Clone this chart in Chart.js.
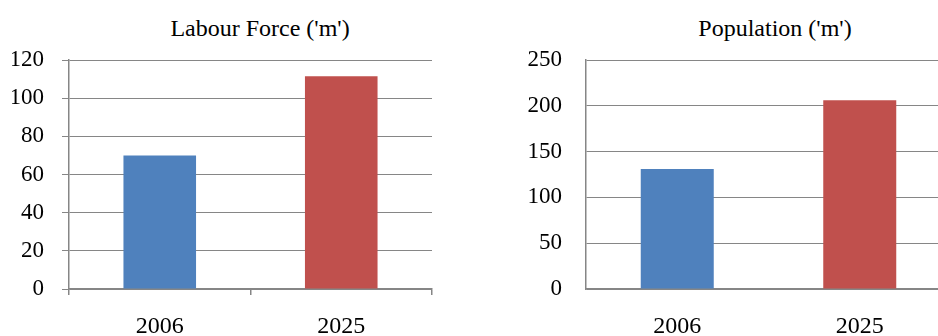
<!DOCTYPE html>
<html lang="en">
<head>
  <meta charset="UTF-8">
  <title>Labour Force and Population</title>
  <script src="https://cdn.jsdelivr.net/npm/chart.js"></script>
  <style>
    body {
      margin: 0;
      width: 938px;
      height: 336px;
      overflow: hidden;
      background: #ffffff;
      position: relative;
      font-family: 'Liberation Serif', 'Times New Roman', serif;
    }
    .chart-box {
      position: absolute;
      top: 0;
      height: 380px;
    }
    .chart-title {
      position: absolute;
      top: 16px;
      width: 300px;
      text-align: center;
      font-size: 24px;
      line-height: 1;
      color: #000;
      white-space: nowrap;
    }
  </style>
</head>
<body>

  <div class="chart-title" style="left: 110px;">Labour Force ('m')</div>
  <div class="chart-title" style="left: 625px;">Population ('m')</div>

  <div class="chart-box" style="left: 0; width: 469px;">
    <canvas id="labourChart"></canvas>
  </div>
  <div class="chart-box" style="left: 469px; width: 482px;">
    <canvas id="popChart"></canvas>
  </div>

  <script>
    const years = ['2006', '2025'];
    const labourForce = [70, 111.5];
    const population = [131, 206];
    const labourTicks = [0, 20, 40, 60, 80, 100, 120];
    const populationTicks = [0, 50, 100, 150, 200, 250];

    const barColors = ['#4f81bd', '#c0504d'];
    const gray = '#868686';
    const serif = "'Liberation Serif', 'Times New Roman', serif";

    Chart.defaults.font.family = serif;
    Chart.defaults.color = '#000';

    function makeChart(id, values, ticks, opts) {
      const ctx = document.getElementById(id).getContext('2d');
      return new Chart(ctx, {
        type: 'bar',
        data: {
          labels: years,
          datasets: [{
            data: values,
            backgroundColor: barColors,
            categoryPercentage: 1,
            barPercentage: 0.4
          }]
        },
        options: {
          responsive: true,
          maintainAspectRatio: false,
          animation: false,
          layout: { padding: opts.padding },
          plugins: {
            legend: { display: false },
            title: { display: false },
            tooltip: { enabled: false }
          },
          scales: {
            x: {
              afterFit: s => { s.height = 50; },
              grid: {
                display: opts.xTicks,
                drawOnChartArea: false,
                drawTicks: opts.xTicks,
                tickLength: 6,
                color: gray,
                lineWidth: 1.5
              },
              border: { display: true, color: gray, width: 1.5 },
              ticks: {
                font: { family: serif, size: 24 },
                padding: opts.xPad,
                maxRotation: 0
              }
            },
            y: {
              min: ticks[0],
              max: ticks[ticks.length - 1],
              afterFit: s => { s.width = opts.yWidth; },
              afterBuildTicks: s => { s.ticks = ticks.map(v => ({ value: v })); },
              grid: {
                color: gray,
                lineWidth: 1,
                drawTicks: opts.yTicks,
                tickLength: 7
              },
              border: { display: true, color: gray, width: 1.5 },
              ticks: {
                font: { family: serif, size: 23 },
                padding: opts.yPad
              }
            }
          }
        }
      });
    }

    function drawAll() {
      makeChart('labourChart', labourForce, labourTicks, {
        padding: { left: 12, top: 60, right: 37, bottom: 41 },
        xTicks: true,
        xPad: 17,
        yTicks: true,
        yPad: 18,
        yWidth: 57
      });

      makeChart('popChart', population, populationTicks, {
        padding: { left: 0, top: 60, right: 0, bottom: 41 },
        xTicks: false,
        xPad: 23,
        yTicks: false,
        yPad: 24,
        yWidth: 117
      });
    }

    // make sure the serif face is ready before the canvases paint text
    document.fonts.load("23px 'Liberation Serif'").then(drawAll, drawAll);
  </script>

</body>
</html>
